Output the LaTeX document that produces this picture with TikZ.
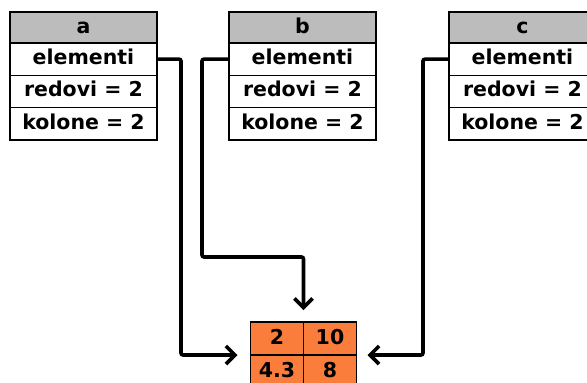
\documentclass[tikz,border=0pt]{standalone}
\usepackage{fontspec}
\setmainfont{DejaVu Sans}
\usetikzlibrary{positioning,arrows.meta}
\definecolor{headgray}{RGB}{188,188,188}
\definecolor{cellorange}{RGB}{250,125,60}

\begin{document}
\begin{tikzpicture}[x=1pt,y=-1pt,
    field/.style={draw, line width=1.6pt, fill=white, minimum width=147pt,
        minimum height=32.3pt, inner sep=0pt, outer sep=0pt,
        text height=15pt, text depth=4pt,
        font=\fontsize{20.5}{24}\selectfont\bfseries},
    head/.style={field, fill=headgray, minimum height=31pt},
    cell/.style={draw, line width=1.8pt, fill=cellorange, minimum width=53pt,
        minimum height=33pt, inner sep=0pt, outer sep=0pt,
        text height=15pt, text depth=4pt,
        font=\fontsize{20.5}{24}\selectfont\bfseries},
    pointer/.style={draw, line width=3.6pt, rounded corners=2pt,
        -{Straight Barb[length=9pt,width=18pt]}}
]
    \clip (0,0) rectangle (587,383);

    % the three structures
    \foreach \s/\x in {a/83.5, b/302.5, c/522.5} {
        \node [head] (\s) at (\x,27.5) {\s};
        \node [field, below=0pt of \s] (\s-el) {elementi};
        \node [field, below=0pt of \s-el] (\s-red) {redovi = 2};
        \node [field, below=0pt of \s-red] (\s-kol) {kolone = 2};
    }

    % the shared elements
    \node [cell] (m11) at (277,338.5) {2};
    \node [cell, right=0pt of m11] (m12) {10};
    \node [cell, below=0pt of m11] (m21) {4.3};
    \node [cell, below=0pt of m12] (m22) {8};

    \coordinate (knick) at (303.5,257);

    \draw [pointer, shorten >=13pt] (a-el.east) -- ++(24,0) |- (m11.south west);
    \draw [pointer, shorten >=12pt] (b-el.west) -- ++(-27,0) |- (knick) -- (m11.north east);
    \draw [pointer, shorten >=11pt] (c-el.west) -- ++(-26,0) |- (m12.south east);
\end{tikzpicture}
\end{document}
